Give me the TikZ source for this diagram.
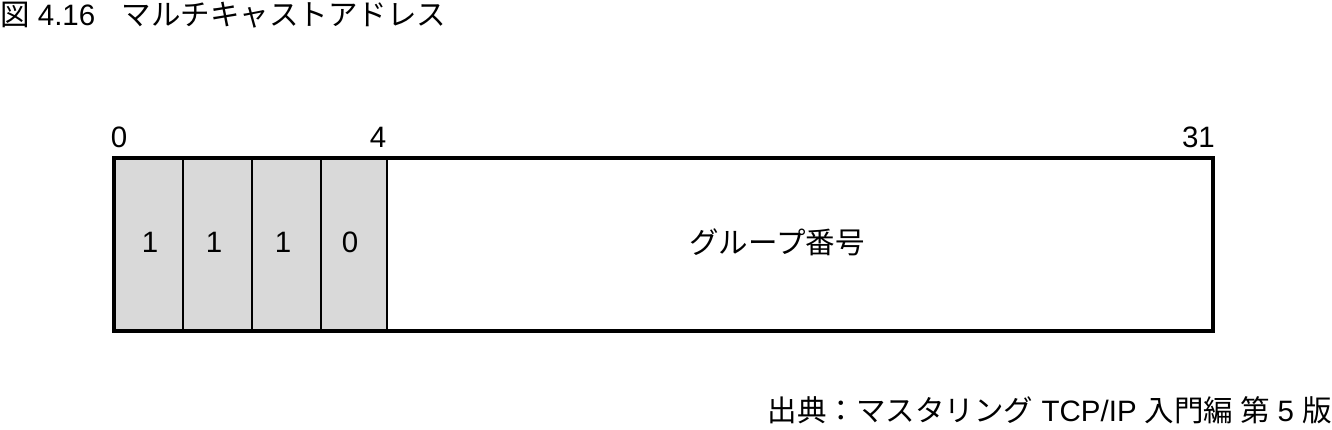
\documentclass[tikz,border=0pt]{standalone}
\usepackage{fontspec}
\setmainfont{Liberation Sans}
\newfontfamily\jp{Noto Sans CJK JP}
\usetikzlibrary{positioning}

\tikzset{
	lbl/.style={font=\fontsize{29.5}{29.5}\selectfont, inner sep=0pt},
	bitfill/.style={fill=black!15}
}

\begin{document}
\begin{tikzpicture}[x=1pt,y=-1pt]
		\useasboundingbox (0,0) rectangle (1332,429);
		% title
		\node[lbl, anchor=base west] (title) at (0,25) {{\jp 図} 4.16\hspace{0.9em}{\jp マルチキャストアドレス}};
		% fixed bits
		\fill[bitfill] (114,158) rectangle (387,331);
		\draw[line width=1.3pt] (183,158) -- (183,331);
		\draw[line width=1.3pt] (252,158) -- (252,331);
		\draw[line width=1.3pt] (321,158) -- (321,331);
		\draw[line width=2pt] (387,158) -- (387,331);
		\draw[line width=3.3pt] (114,158) rectangle (1213,331);
		% bit numbers
		\node[lbl, anchor=base] (n0) at (119,147) {0};
		\node[lbl, anchor=base] (n4) at (378,147) {4};
		\node[lbl, anchor=base east] (n31) at (1215,147) {31};
		% field contents
		\node[lbl] (b1) at (150,242) {1};
		\node[lbl] (b2) at (214,242) {1};
		\node[lbl] (b3) at (283,242) {1};
		\node[lbl] (b4) at (350,242) {0};
		\node[lbl] (grp) at (777,242) {\jp グループ番号};
		% source
		\node[lbl, anchor=base east] (src) at (1332,421) {{\jp 出典：マスタリング} TCP/IP {\jp 入門編 第} 5 {\jp 版}};
	\end{tikzpicture}
\end{document}
